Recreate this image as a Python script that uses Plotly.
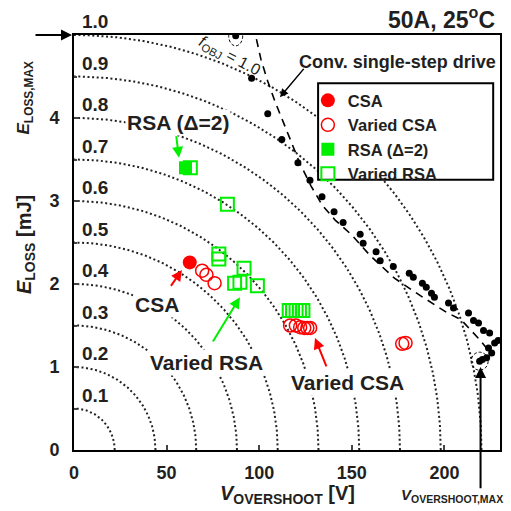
import plotly.graph_objects as go
import numpy as np

# ---------------- data ----------------
V_MAX = 220.0   # V_OVERSHOOT,MAX [V]
E_MAX = 5.0     # E_LOSS,MAX [mJ]
f_levels = [0.1, 0.2, 0.3, 0.4, 0.5, 0.6, 0.7, 0.8, 0.9, 1.0]
f_labels = ["0.1", "0.2", "0.3", "0.4", "0.5", "0.6", "0.7", "0.8", "0.9", "1.0"]

conv_v = [87.3, 95.9, 104.6, 112.2, 120.9, 127.4, 133.9, 140.4, 145.3, 154.5, 156.1, 163.1,
          165.3, 172.4, 181.0, 183.2, 188.1, 190.2, 193.0, 194.6, 202.2, 204.9, 213.0, 215.7,
          218.4, 221.1, 224.4, 229.0, 227.1, 223.8, 225.5, 222.8, 220.5, 219.0]
conv_e = [4.99, 4.48, 4.05, 3.74, 3.46, 3.25, 3.05, 2.87, 2.74, 2.60, 2.49, 2.39,
          2.28, 2.21, 2.13, 2.08, 2.01, 1.96, 1.89, 1.84, 1.77, 1.71, 1.65, 1.56,
          1.53, 1.44, 1.41, 1.32, 1.29, 1.23, 1.17, 1.11, 1.09, 1.07]

fit_v = [98.5, 101, 104.5, 108.5, 113, 117, 122, 128, 134, 141, 150, 160, 173, 187, 201, 209, 219, 223]
fit_e = [4.95, 4.70, 4.45, 4.20, 3.95, 3.72, 3.45, 3.18, 2.95, 2.77, 2.59, 2.34, 2.07, 1.86, 1.66, 1.57, 1.33, 1.22]

csa_v = [62.5]
csa_e = [2.26]

vcsa_v = [69.2, 71.5, 75.9, 116.7, 119.8, 122.1, 124.3, 126.0, 127.5, 177.2, 179.0]
vcsa_e = [2.16, 2.11, 2.01, 1.50, 1.50, 1.48, 1.47, 1.47, 1.47, 1.28, 1.29]

rsa_v = [60.2]
rsa_e = [3.40]

vrsa_v = [62.8, 82.8, 78.2, 78.2, 91.8, 86.7, 89.6, 99.0, 116.2, 118.0, 119.9, 121.7, 123.6]
vrsa_e = [3.40, 2.96, 2.36, 2.30, 2.19, 2.01, 2.02, 1.98, 1.68, 1.68, 1.68, 1.68, 1.68]

x_ticks = [0, 50, 100, 150, 200]
y_ticks = [0, 1, 2, 3, 4]

# ---------------- figure ----------------
FONT = "Liberation Sans, Arial, sans-serif"
TXT = "#231f20"
RED = "#ff0000"
GREEN = "#00ee00"

fig = go.Figure()

t = np.linspace(0, np.pi / 2, 240)
for f in f_levels:
    fig.add_trace(go.Scatter(
        x=f * V_MAX * np.cos(t), y=f * E_MAX * np.sin(t), mode="lines",
        line=dict(color="#222222", width=2, dash="2px,2.6px"),
        showlegend=False, hoverinfo="skip"))

fig.add_trace(go.Scatter(x=fit_v, y=fit_e, mode="lines", line=dict(color="black", width=1.6, dash="8px,6px"),
                         showlegend=False, hoverinfo="skip"))
fig.add_trace(go.Scatter(x=conv_v, y=conv_e, mode="markers", marker=dict(color="black", size=7),
                         showlegend=False))

fig.add_trace(go.Scatter(x=csa_v, y=csa_e, mode="markers", name="CSA",
                         marker=dict(color=RED, size=14, symbol="circle")))
fig.add_trace(go.Scatter(x=vcsa_v, y=vcsa_e, mode="markers", name="Varied CSA",
                         marker=dict(color=RED, size=13, symbol="circle-open", line=dict(width=1.5))))
fig.add_trace(go.Scatter(x=rsa_v, y=rsa_e, mode="markers", name="RSA (Δ=2)",
                         marker=dict(color=GREEN, size=13, symbol="square")))
fig.add_trace(go.Scatter(x=vrsa_v, y=vrsa_e, mode="markers", name="Varied RSA",
                         marker=dict(color=GREEN, size=13, symbol="square-open", line=dict(width=2))))

ann = []
# contour labels
for f, lab in zip(f_levels, f_labels):
    ann.append(dict(x=0, y=f * E_MAX, xref="x", yref="y", text=lab, showarrow=False,
                    xanchor="left", yanchor="bottom", xshift=6, yshift=1,
                    font=dict(size=19, color=TXT, family=FONT, weight="bold")))

def label(x, y, text, size=21, **kw):
    d = dict(x=x, y=y, xref="x", yref="y", text=text, showarrow=False,
             font=dict(size=size, color=TXT, family=FONT, weight="bold"))
    d.update(kw)
    ann.append(d)

def arrow(x, y, ax, ay, color, w=2):
    ann.append(dict(x=x, y=y, ax=ax, ay=ay, xref="x", yref="y", axref="x", ayref="y",
                    text="", showarrow=True, arrowhead=2, arrowsize=1.1, arrowwidth=w,
                    arrowcolor=color))

label(56.2, 3.94, "RSA (Δ=2)", bgcolor="white")
arrow(56.7, 3.52, 55.1, 3.80, GREEN)
label(44.8, 1.75, "CSA", bgcolor="white")
arrow(58.3, 2.17, 51.8, 1.96, RED)
label(71.3, 1.06, "Varied RSA", bgcolor="white")
arrow(89.6, 1.84, 74.5, 1.29, GREEN)
label(147.9, 0.81, "Varied CSA", bgcolor="white")
arrow(130.1, 1.35, 136.6, 0.99, RED)
label(174.4, 4.67, "Conv. single-step drive", size=18, bgcolor="white")
arrow(111.2, 4.25, 124.7, 4.61, "black", 1.5)
label(84.0, 4.74, "<i>f</i><sub>OBJ</sub> = 1.0", textangle=28,
      font=dict(size=16, color=TXT, family=FONT, weight="normal"))

# title
ann.append(dict(x=0.993, y=1.041, xref="paper", yref="paper", text="50A, 25<sup>o</sup>C", showarrow=False,
                xanchor="right", yanchor="middle", font=dict(size=23, color=TXT, family=FONT, weight="bold")))
# axis titles
ann.append(dict(x=-0.148, y=0.495, xref="paper", yref="paper", text="<i>E</i><sub>LOSS</sub> [mJ]", showarrow=False,
                textangle=-90, font=dict(size=20, color=TXT, family=FONT, weight="bold")))
ann.append(dict(x=0.5, y=-0.142, xref="paper", yref="paper", text="<i>V</i><sub>OVERSHOOT</sub> [V]", showarrow=False,
                font=dict(size=20, color=TXT, family=FONT, weight="bold")))
# E_LOSS,MAX
ann.append(dict(x=-0.145, y=0.944, xref="paper", yref="paper", text="<i>E</i><sub>LOSS,MAX</sub>", showarrow=False,
                textangle=-90, font=dict(size=17, color=TXT, family=FONT, weight="bold")))
ann.append(dict(x=0, y=E_MAX, xref="x", yref="y", ax=-40, ay=0, text="", showarrow=True,
                arrowhead=2, arrowsize=1.1, arrowwidth=2, arrowcolor="black", standoff=2))
# V_OVERSHOOT,MAX
ann.append(dict(x=204.1, y=-0.138, xref="x", yref="paper", text="<i>V</i><sub>OVERSHOOT,MAX</sub>", showarrow=False,
                font=dict(size=15, color=TXT, family=FONT, weight="bold")))
ann.append(dict(x=V_MAX - 0.5, y=1.0, ax=V_MAX - 0.5, ay=-0.48, xref="x", yref="y", axref="x", ayref="y",
                text="", showarrow=True, arrowhead=2, arrowsize=1.1, arrowwidth=2, arrowcolor="black"))

shapes = [
    dict(type="circle", xref="x", yref="y", xsizemode="pixel", ysizemode="pixel",
         xanchor=conv_v[0], yanchor=conv_e[0], x0=-7, x1=7, y0=-10, y1=10,
         line=dict(color="black", width=1, dash="3px,2px")),
    dict(type="circle", xref="x", yref="y", xsizemode="pixel", ysizemode="pixel",
         xanchor=conv_v[-1], yanchor=conv_e[-1], x0=-8.5, x1=8.5, y0=-9, y1=9,
         line=dict(color="black", width=1, dash="3px,2px")),
    # legend frame
    dict(type="rect", xref="paper", yref="paper", x0=0.573, x1=0.984, y0=0.651, y1=0.884,
         fillcolor="white", line=dict(color="black", width=2), layer="above"),
]

fig.update_layout(
    width=511, height=511,
    margin=dict(l=74, r=11, t=35, b=61),
    paper_bgcolor="white", plot_bgcolor="white",
    font=dict(family=FONT, size=18, color=TXT, weight="bold"),
    annotations=ann, shapes=shapes,
    legend=dict(x=0.549, y=0.884, xanchor="left", yanchor="top", bgcolor="rgba(0,0,0,0)",
                borderwidth=0, font=dict(size=16.5, family=FONT, weight="bold", color=TXT),
                tracegroupgap=0, itemwidth=30),
    xaxis=dict(range=[0, 230], tickvals=x_ticks, ticks="inside", ticklen=5, tickwidth=1.5,
               showline=True, linecolor="black", linewidth=2, mirror=True, showgrid=False, zeroline=False,
               tickfont=dict(size=18, weight="bold"), ticklabelstandoff=5, automargin=False),
    yaxis=dict(range=[0, 5], tickvals=y_ticks, ticks="inside", ticklen=5, tickwidth=1.5,
               minor=dict(dtick=0.5, ticks="inside", ticklen=3, tickwidth=1.5),
               showline=True, linecolor="black", linewidth=2, mirror=True, showgrid=False, zeroline=False,
               tickfont=dict(size=18, weight="bold"), ticklabelstandoff=9, automargin=False),
)

fig.write_html("out.html", config={"displayModeBar": False},
               post_script="document.body.style.margin='0';document.body.style.overflow='hidden';")
